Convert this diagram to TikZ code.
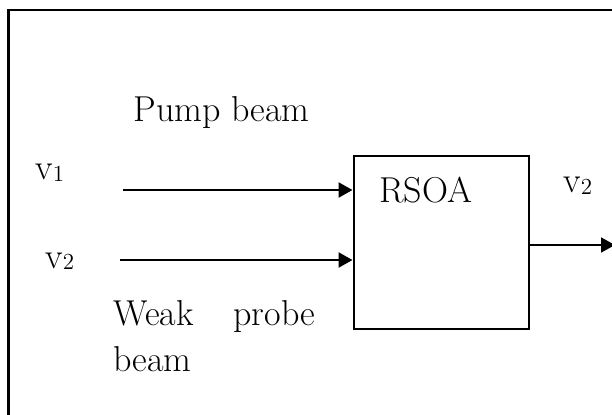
\documentclass[tikz,border=0pt]{standalone}
\usetikzlibrary{arrows.meta}

% small digit index, set just below the baseline
\newcommand{\lowidx}[1]{\raisebox{-0.8pt}{\fontsize{11.5}{11.5}\selectfont #1}}

\tikzset{
	labeltext/.style={inner sep=0pt, anchor=base west, font=\fontsize{18}{23}\selectfont},
	beamarrow/.style={line width=1.2pt, -{Triangle[length=7pt,width=7.5pt]}},
}

\begin{document}
\begin{tikzpicture}[x=0.5pt, y=-0.5pt, line join=miter]
	% Picture size (in pixels of the sketch)
	\def\picw{612} \def\pich{414}
	
	\useasboundingbox (0,0) rectangle (\picw,\pich);
	\clip (0,0) rectangle (\picw,\pich);
	
	% Outer frame, running off to the right and bottom
	\draw[line width=1.1pt] (8.5,10) rectangle (\picw+30,\pich+30);
	
	% Amplifier box
	\node[draw, line width=1pt, inner sep=0pt, minimum width=87.5pt, minimum height=86.8pt]
	(rsoa) at (441,242.4) {};
	\node[labeltext] (rsoalabel) at (379,202.7) {RSOA};
	
	% Input beams
	\coordinate (pumpin) at (123,190);
	\coordinate (probein) at (120,260);
	\draw[beamarrow] (pumpin) -- (pumpin -| rsoa.west);
	\draw[beamarrow] (probein) -- (probein -| rsoa.west);
	
	% Output beam
	\coordinate (out) at (615,245);
	\draw[beamarrow, line width=0.9pt] (rsoa.east |- out) -- (out);
	
	% Labels
	\node[labeltext] (pump) at (133,121.7) {Pump beam};
	\node[labeltext] (vone) at (35,179.5) {v\lowidx{1}};
	\node[labeltext] (vtwoin) at (45,268.3) {v\lowidx{2}};
	\node[labeltext] (vtwoout) at (563,192.5) {v\lowidx{2}};
	\node[labeltext] (probe) at (113,325) {Weak\hspace{20pt}probe};
	\node[labeltext] (probebeam) at (113,371) {beam};
\end{tikzpicture}
\end{document}
